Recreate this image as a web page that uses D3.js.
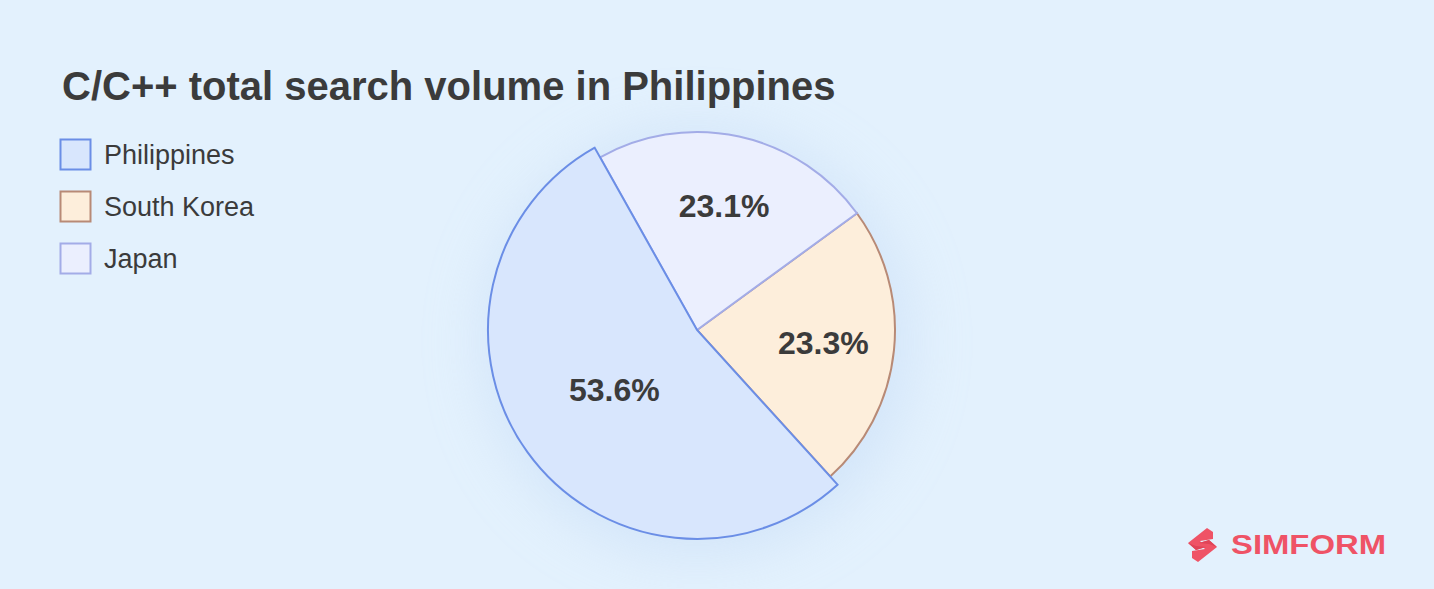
<!DOCTYPE html>
<html>
<head>
<meta charset="utf-8">
<script src="https://cdn.jsdelivr.net/npm/d3@7"></script>
<style>
  html, body { margin: 0; padding: 0; background: #e3f1fd; }
  svg { display: block; }
  text { font-family: "Liberation Sans", Arial, Helvetica, sans-serif; }
</style>
</head>
<body>
<svg id="chart" width="1434" height="589"></svg>
<script>
// ---- data ----
const categories = ["Philippines", "South Korea", "Japan"];
const values = [53.6, 23.3, 23.1];
const valueLabels = ["53.6%", "23.3%", "23.1%"];
const fillColors = ["#d8e6fd", "#fdeedb", "#ebeffe"];
const strokeColors = ["#6b8ee6", "#b88a76", "#a3ace7"];
const titleText = "C/C++ total search volume in Philippines";

// ---- layout ----
const W = 1434, H = 589;
const cx = 697, cy = 330;
const baseR = 198, bigR = 209;
const deg = Math.PI / 180;

const svg = d3.select("#chart");

svg.append("rect").attr("width", W).attr("height", H).attr("fill", "#e3f1fd");

const defs = svg.append("defs");
const f = defs.append("filter").attr("id", "glow")
  .attr("x", "-50%").attr("y", "-50%").attr("width", "200%").attr("height", "200%");
f.append("feGaussianBlur").attr("stdDeviation", 28);

// soft glow behind pie
svg.append("circle").attr("cx", cx).attr("cy", cy + 12).attr("r", 215)
  .attr("fill", "#c6dcf6").attr("opacity", 0.55).attr("filter", "url(#glow)");

// title
svg.append("text").attr("x", 62).attr("y", 100)
  .attr("font-size", 40).attr("font-weight", "bold").attr("fill", "#3b3b3b")
  .text(titleText);

// legend
const legend = svg.append("g");
categories.forEach((c, i) => {
  const y = 139 + i * 52;
  legend.append("rect").attr("x", 60.5).attr("y", y + 0.5).attr("width", 30).attr("height", 30)
    .attr("fill", fillColors[i]).attr("stroke", strokeColors[i]).attr("stroke-width", 2);
  legend.append("text").attr("x", 104).attr("y", y + 25)
    .attr("font-size", 27).attr("fill", "#3b3b3b").text(c);
});

// pie
const pie = d3.pie().sort(null).value(d => d)
  .startAngle(330.7 * deg).endAngle(-29.3 * deg);
const arcs = pie(values);

const g = svg.append("g").attr("transform", `translate(${cx},${cy})`);
const radiusOf = d => d.index === 0 ? bigR : baseR;
const arcGen = d3.arc().innerRadius(0).outerRadius(radiusOf);

// draw smaller slices first, big slice last
const order = [1, 2, 0];
order.forEach(i => {
  const d = arcs[i];
  g.append("path").attr("d", arcGen(d))
    .attr("fill", fillColors[i]).attr("stroke", strokeColors[i])
    .attr("stroke-width", 2).attr("stroke-linejoin", "miter");
});

// labels
const labelR = d => d.index === 0 ? 102 : 127;
arcs.forEach((d, i) => {
  const a = (d.startAngle + d.endAngle) / 2;
  const r = labelR(d);
  g.append("text")
    .attr("x", r * Math.sin(a)).attr("y", -r * Math.cos(a))
    .attr("dy", "0.34em")
    .attr("text-anchor", "middle")
    .attr("font-size", 32).attr("font-weight", "bold").attr("fill", "#3b3b3b")
    .text(valueLabels[i]);
});

// logo
const logo = svg.append("g");
logo.append("path")
  .attr("d", "M1207,528 L1213,532 L1213,539 L1200,541 L1206,547 L1196,550 L1188,543 Z")
  .attr("fill", "#ef5366");
logo.append("path")
  .attr("d", "M1198,562 L1192,558 L1192,551 L1205,549 L1199,543 L1209,540 L1217,547 Z")
  .attr("fill", "#ef5366");
logo.append("path")
  .attr("d", "M1188,543 L1196,550 L1206,547 L1196,546 Z").attr("fill", "#e04458");
logo.append("path")
  .attr("d", "M1217,547 L1209,540 L1199,543 L1209,544 Z").attr("fill", "#e04458");
logo.append("text").attr("x", 1231).attr("y", 554)
  .attr("font-family", "'DejaVu Sans', sans-serif")
  .attr("font-size", 27).attr("font-weight", "bold").attr("fill", "#ef5366")
  .attr("textLength", 155).attr("lengthAdjust", "spacingAndGlyphs")
  .text("SIMFORM");
</script>
</body>
</html>
